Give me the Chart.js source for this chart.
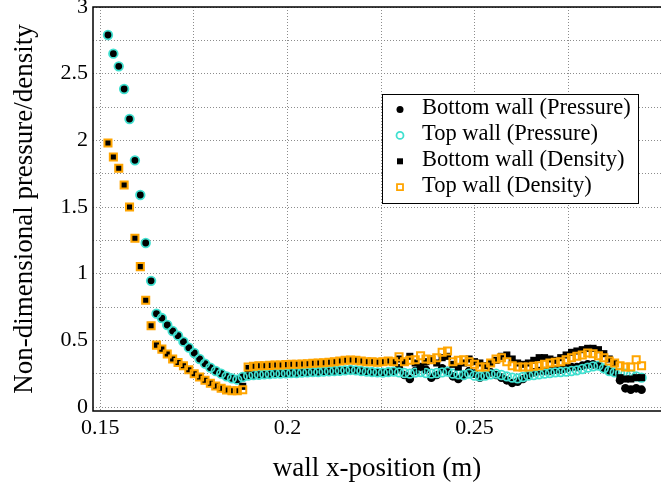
<!DOCTYPE html>
<html>
<head>
<meta charset="utf-8">
<script src="https://cdn.jsdelivr.net/npm/chart.js@4"></script>
<style>
  html, body { margin: 0; padding: 0; background: #fff; overflow: hidden; }
  canvas { display: block; }
</style>
</head>
<body>
<canvas id="myChart" width="661" height="488"></canvas>
<script>
// wall x-position (m) of each sample point
const xPos = [
  0.15205, 0.15349, 0.15493, 0.15637, 0.15781, 0.15925, 0.16069, 0.16213, 0.16357, 0.16501,
  0.16645, 0.16789, 0.16933, 0.17077, 0.17221, 0.17365, 0.17509, 0.17653, 0.17797, 0.17941,
  0.18085, 0.18229, 0.18373, 0.18517, 0.18661, 0.18805, 0.18949, 0.19093, 0.19237, 0.19381,
  0.19525, 0.19669, 0.19813, 0.19957, 0.20101, 0.20245, 0.20389, 0.20533, 0.20677, 0.20821,
  0.20965, 0.21109, 0.21253, 0.21397, 0.21541, 0.21685, 0.21829, 0.21973, 0.22117, 0.22261,
  0.22405, 0.22549, 0.22693, 0.22837, 0.22981, 0.23125, 0.23269, 0.23413, 0.23557, 0.23701,
  0.23845, 0.23989, 0.24133, 0.24277, 0.24421, 0.24565, 0.24709, 0.24853, 0.24997, 0.25141,
  0.25285, 0.25429, 0.25573, 0.25717, 0.25861, 0.26005, 0.26149, 0.26293, 0.26437, 0.26581,
  0.26725, 0.26869, 0.27013, 0.27157, 0.27301, 0.27445, 0.27589, 0.27733, 0.27877, 0.28021,
  0.28165, 0.28309, 0.28453, 0.28597, 0.28741, 0.28885, 0.29029, 0.29173, 0.29317, 0.29461
];

const pressureBottom = [
  2.79, 2.65, 2.555, 2.385, 2.16, 1.85, 1.59, 1.23, 0.946, 0.70,
  0.667, 0.615, 0.57, 0.535, 0.49, 0.445, 0.405, 0.36, 0.325, 0.295,
  0.27, 0.25, 0.23, 0.215, 0.205, 0.225, 0.235, 0.24, 0.242, 0.245,
  0.247, 0.25, 0.25, 0.252, 0.255, 0.255, 0.258, 0.26, 0.262, 0.262,
  0.265, 0.268, 0.27, 0.272, 0.275, 0.278, 0.275, 0.27, 0.265, 0.262,
  0.26, 0.258, 0.262, 0.265, 0.29, 0.24, 0.21, 0.27, 0.30, 0.28,
  0.22, 0.24, 0.29, 0.27, 0.23, 0.21, 0.24, 0.27, 0.25, 0.22,
  0.24, 0.26, 0.24, 0.22, 0.20, 0.18, 0.19, 0.21, 0.24, 0.26,
  0.27, 0.27, 0.27, 0.28, 0.28, 0.29, 0.30, 0.30, 0.31, 0.32,
  0.32, 0.31, 0.29, 0.27, 0.26, 0.20, 0.14, 0.13, 0.14, 0.13
];

const pressureTop = [
  2.79, 2.65, 2.555, 2.385, 2.16, 1.85, 1.59, 1.23, 0.946, 0.70,
  0.667, 0.615, 0.57, 0.535, 0.49, 0.445, 0.405, 0.36, 0.325, 0.295,
  0.27, 0.25, 0.23, 0.215, 0.205, 0.225, 0.235, 0.24, 0.242, 0.245,
  0.247, 0.25, 0.25, 0.252, 0.255, 0.255, 0.258, 0.26, 0.262, 0.262,
  0.265, 0.268, 0.27, 0.272, 0.275, 0.278, 0.275, 0.27, 0.265, 0.262,
  0.26, 0.258, 0.262, 0.265, 0.26, 0.255, 0.25, 0.258, 0.262, 0.255,
  0.25, 0.255, 0.26, 0.265, 0.25, 0.245, 0.24, 0.25, 0.235, 0.23,
  0.235, 0.245, 0.25, 0.24, 0.23, 0.22, 0.215, 0.225, 0.235, 0.24,
  0.245, 0.25, 0.255, 0.26, 0.262, 0.265, 0.27, 0.275, 0.285, 0.295,
  0.305, 0.31, 0.29, 0.27, 0.26, 0.255, 0.25, 0.24, 0.23, 0.22
];

const densityBottom = [
  1.98, 1.875, 1.79, 1.665, 1.50, 1.265, 1.053, 0.80, 0.609, 0.464,
  0.434, 0.397, 0.36, 0.334, 0.309, 0.279, 0.25, 0.225, 0.20, 0.178,
  0.158, 0.14, 0.128, 0.122, 0.122, 0.155, 0.29, 0.305, 0.31, 0.31,
  0.312, 0.315, 0.315, 0.318, 0.32, 0.32, 0.322, 0.325, 0.328, 0.33,
  0.332, 0.335, 0.34, 0.345, 0.35, 0.352, 0.35, 0.345, 0.34, 0.34,
  0.335, 0.34, 0.345, 0.34, 0.36, 0.34, 0.38, 0.33, 0.30, 0.34,
  0.36, 0.33, 0.37, 0.38, 0.32, 0.30, 0.33, 0.36, 0.34, 0.33,
  0.31, 0.33, 0.35, 0.38, 0.39, 0.36, 0.33, 0.32, 0.33, 0.35,
  0.37, 0.37, 0.36, 0.35, 0.37, 0.39, 0.41, 0.42, 0.43, 0.44,
  0.44, 0.43, 0.40, 0.36, 0.33, 0.22, 0.21, 0.21, 0.22, 0.22
];

const densityTop = [
  1.98, 1.875, 1.79, 1.665, 1.50, 1.265, 1.053, 0.80, 0.609, 0.464,
  0.434, 0.397, 0.36, 0.334, 0.309, 0.279, 0.25, 0.225, 0.20, 0.178,
  0.158, 0.14, 0.128, 0.122, 0.122, 0.13, 0.30, 0.305, 0.31, 0.31,
  0.312, 0.315, 0.315, 0.318, 0.32, 0.32, 0.322, 0.325, 0.328, 0.33,
  0.332, 0.335, 0.34, 0.345, 0.35, 0.352, 0.35, 0.345, 0.34, 0.34,
  0.335, 0.34, 0.345, 0.34, 0.377, 0.34, 0.35, 0.355, 0.385, 0.36,
  0.355, 0.37, 0.41, 0.42, 0.34, 0.35, 0.355, 0.34, 0.32, 0.30,
  0.30, 0.33, 0.36, 0.37, 0.34, 0.31, 0.30, 0.30, 0.30, 0.305,
  0.31, 0.32, 0.33, 0.335, 0.34, 0.355, 0.37, 0.38, 0.39, 0.405,
  0.40, 0.385, 0.37, 0.345, 0.33, 0.31, 0.30, 0.30, 0.355, 0.31
];

const seriesNames = [
  'Bottom wall (Pressure)',
  'Top wall (Pressure)',
  'Bottom wall (Density)',
  'Top wall (Density)'
];

const xTicks = [0.15, 0.175, 0.2, 0.225, 0.25, 0.275];
const xTickLabels = ['0.15', '', '0.2', '', '0.25', ''];
const yTicks = [0, 0.25, 0.5, 0.75, 1, 1.25, 1.5, 1.75, 2, 2.25, 2.5, 2.75, 3];
const yTickLabels = ['0', '', '0.5', '', '1', '', '1.5', '', '2', '', '2.5', '', '3'];

const serif = 'Liberation Serif';
const cyan = '#40e0d0';
const orange = '#ffa500';

function points(ys) {
  return xPos.map((x, i) => ({x: x, y: ys[i]}));
}

// frame (left, bottom, top) and the boxed legend inside the plot
const boxLegend = {
  id: 'boxLegend',
  afterDraw(chart) {
    const ctx = chart.ctx;
    const area = chart.chartArea;
    ctx.save();
    ctx.strokeStyle = '#000';
    ctx.lineWidth = 1.5;
    ctx.beginPath();
    ctx.moveTo(area.right, area.top);
    ctx.lineTo(area.left, area.top);
    ctx.lineTo(area.left, area.bottom);
    ctx.lineTo(area.right, area.bottom);
    ctx.stroke();

    ctx.fillStyle = '#fff';
    ctx.fillRect(382.5, 94.5, 256, 109);
    ctx.lineWidth = 1;
    ctx.strokeRect(382.5, 94.5, 256, 109);

    ctx.font = '22.5px "' + serif + '"';
    ctx.textBaseline = 'middle';
    ctx.textAlign = 'left';
    chart.data.datasets.forEach((ds, i) => {
      const y = 108.5 + i * 25.9;
      const mx = 400;
      ctx.beginPath();
      if (ds.pointStyle === 'circle') {
        ctx.arc(mx, y + 1, 3.5, 0, Math.PI * 2);
      } else {
        ctx.rect(mx - 3, y - 2, 6, 6);
      }
      if (ds.pointBackgroundColor !== 'rgba(0,0,0,0)') {
        ctx.fillStyle = ds.pointBackgroundColor;
        ctx.fill();
      } else {
        ctx.strokeStyle = ds.pointBorderColor;
        ctx.lineWidth = 1.8;
        ctx.stroke();
      }
      ctx.fillStyle = '#000';
      ctx.fillText(ds.label, 422, y);
    });
    ctx.restore();
  }
};

let ctx = document.getElementById('myChart');

var myChart = new Chart(ctx, {
  type: 'scatter',
  data: {
    datasets: [{
      label: seriesNames[0],
      data: points(pressureBottom),
      order: 4,
      pointStyle: 'circle',
      pointRadius: 4.3,
      pointBackgroundColor: '#000',
      pointBorderColor: '#000',
      pointBorderWidth: 0
    }, {
      label: seriesNames[1],
      data: points(pressureTop),
      order: 3,
      pointStyle: 'circle',
      pointRadius: 4.3,
      pointBackgroundColor: 'rgba(0,0,0,0)',
      pointBorderColor: cyan,
      pointBorderWidth: 1.8
    }, {
      label: seriesNames[2],
      data: points(densityBottom),
      order: 2,
      pointStyle: 'rect',
      pointRadius: 5,
      pointBackgroundColor: '#000',
      pointBorderColor: '#000',
      pointBorderWidth: 0
    }, {
      label: seriesNames[3],
      data: points(densityTop),
      order: 1,
      pointStyle: 'rect',
      pointRadius: 5,
      pointBackgroundColor: 'rgba(0,0,0,0)',
      pointBorderColor: orange,
      pointBorderWidth: 2
    }]
  },
  options: {
    responsive: false,
    animation: false,
    // the plot box runs past the right edge of the picture, as in the original
    layout: { autoPadding: false, padding: { top: 7, right: -10, bottom: 0, left: 0 } },
    plugins: {
      legend: { display: false },
      tooltip: { enabled: false }
    },
    scales: {
      x: {
        type: 'linear',
        bounds: 'data',
        min: 0.14805,
        max: 0.2998,
        afterBuildTicks: (scale) => { scale.ticks = xTicks.map(v => ({value: v})); },
        afterFit: (scale) => { scale.height = 77; scale.paddingLeft = 0; scale.paddingRight = 0; },
        grid: { color: '#8c8c8c', lineWidth: 1, drawTicks: false },
        border: { display: false, dash: [1, 2] },
        ticks: {
          autoSkip: false,
          maxRotation: 0,
          padding: 4,
          color: '#000',
          font: { family: serif, size: 22 },
          callback: (v, i) => xTickLabels[i]
        },
        title: {
          display: true,
          text: 'wall x-position (m)',
          color: '#000',
          font: { family: serif, size: 27 },
          padding: { top: 0, bottom: 3 }
        }
      },
      y: {
        type: 'linear',
        bounds: 'data',
        min: -0.03,
        max: 3,
        afterBuildTicks: (scale) => { scale.ticks = yTicks.map(v => ({value: v})); },
        afterFit: (scale) => { scale.width = 93; scale.paddingTop = 0; scale.paddingBottom = 0; },
        grid: { color: '#8c8c8c', lineWidth: 1, drawTicks: false },
        border: { display: false, dash: [1, 2] },
        ticks: {
          autoSkip: false,
          padding: 5,
          color: '#000',
          font: { family: serif, size: 22 },
          callback: (v, i) => yTickLabels[i]
        },
        title: {
          display: true,
          text: 'Non-dimensional pressure/density',
          color: '#000',
          font: { family: serif, size: 27 },
          padding: { top: 9, bottom: 0 }
        }
      }
    }
  },
  plugins: [boxLegend]
});
</script>
</body>
</html>
